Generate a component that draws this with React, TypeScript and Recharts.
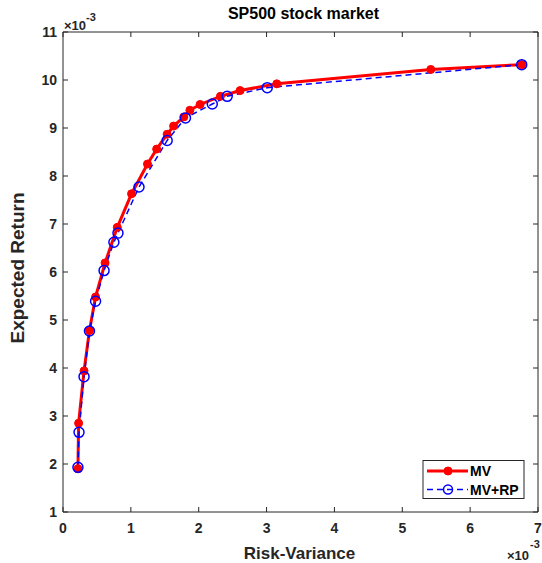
import React from 'react';
import { LineChart, Line, XAxis, YAxis, Label } from 'recharts';

const FONT = '"Liberation Sans", Arial, Helvetica, sans-serif';
const AXIS_COLOR = '#262626';

// Values in units of 1e-3
const mvRisk = [0.22, 0.23, 0.31, 0.39, 0.48, 0.62, 0.8, 1.01, 1.245, 1.38, 1.535, 1.63, 1.78, 1.87, 2.02, 2.32, 2.61, 3.15, 5.42, 6.76];
const mvReturn = [1.9, 2.85, 3.94, 4.78, 5.48, 6.19, 6.93, 7.63, 8.25, 8.56, 8.87, 9.04, 9.23, 9.37, 9.49, 9.66, 9.78, 9.92, 10.22, 10.32];
const rpRisk = [0.22, 0.236, 0.31, 0.39, 0.48, 0.605, 0.75, 0.81, 1.12, 1.535, 1.805, 2.2, 2.42, 3.01, 6.76];
const rpReturn = [1.93, 2.66, 3.82, 4.77, 5.39, 6.03, 6.62, 6.81, 7.77, 8.74, 9.21, 9.5, 9.66, 9.84, 10.32];

const xTicks = [0, 1, 2, 3, 4, 5, 6, 7];
const yTicks = [1, 2, 3, 4, 5, 6, 7, 8, 9, 10, 11];

const seriesNames = ['MV', 'MV+RP'];
const seriesColors = ['#ff0000', '#0000ff'];

const mvData = mvRisk.map((x, i) => ({ x, y: mvReturn[i] }));
const rpData = rpRisk.map((x, i) => ({ x, y: rpReturn[i] }));

const tickStyle = { fill: AXIS_COLOR, fontSize: 14, fontWeight: 'bold', fontFamily: FONT };

const BottomLabel = (props: any) => {
  const vb = props.viewBox || { x: 63, y: 512, width: 474, height: 51 };
  const right = vb.x + vb.width;
  return (
    <g fontFamily={FONT} fill={AXIS_COLOR}>
      <text x={vb.x + vb.width / 2 - 1} y={vb.y + 47} textAnchor="middle" fontSize={17} fontWeight="bold">
        Risk-Variance
      </text>
      <text x={right - 31} y={vb.y + 48} fontSize={13} fontWeight="bold">
        ×10
      </text>
      <text x={right - 8} y={vb.y + 36} fontSize={11} fontWeight="bold">
        -3
      </text>
    </g>
  );
};

const TopLabel = (props: any) => {
  const vb = props.viewBox || { x: 63, y: 31, width: 474, height: 1 };
  const top = vb.y + vb.height;
  return (
    <g fontFamily={FONT} fill={AXIS_COLOR}>
      <text x={vb.x + vb.width / 2 + 3} y={top - 13} textAnchor="middle" fontSize={16} fontWeight="bold" fill="#000">
        SP500 stock market
      </text>
      <text x={vb.x + 1} y={top - 2} fontSize={13} fontWeight="bold">
        ×10
      </text>
      <text x={vb.x + 23} y={top - 11} fontSize={11} fontWeight="bold">
        -3
      </text>
    </g>
  );
};

const LeftLabel = (props: any) => {
  const vb = props.viewBox || { x: 0, y: 32, width: 63, height: 480 };
  const cx = 24;
  const cy = vb.y + vb.height / 2 - 4;
  return (
    <text
      x={cx}
      y={cy}
      transform={`rotate(-90, ${cx}, ${cy})`}
      textAnchor="middle"
      fontFamily={FONT}
      fontSize={19}
      fontWeight="bold"
      fill={AXIS_COLOR}
    >
      Expected Return
    </text>
  );
};

const LegendBox = () => (
  <svg width={104} height={42} style={{ position: 'absolute', left: 422, top: 459 }}>
    <rect x={1} y={1.5} width={101} height={38} fill="#fff" stroke={AXIS_COLOR} strokeWidth={1} />
    <line x1={5} x2={46} y1={12} y2={12} stroke={seriesColors[0]} strokeWidth={3} />
    <circle cx={26} cy={12} r={4} fill={seriesColors[0]} stroke={seriesColors[0]} />
    <text x={48} y={17} fontFamily={FONT} fontSize={14} fontWeight="bold" fill="#000">
      {seriesNames[0]}
    </text>
    <line x1={5} x2={46} y1={30.5} y2={30.5} stroke={seriesColors[1]} strokeWidth={1.5} strokeDasharray="6 4" />
    <circle cx={26} cy={30.5} r={4.5} fill="none" stroke={seriesColors[1]} strokeWidth={1.5} />
    <text x={48} y={35.5} fontFamily={FONT} fontSize={14} fontWeight="bold" fill="#000">
      {seriesNames[1]}
    </text>
  </svg>
);

export default function App() {
  return (
    <div style={{ position: 'absolute', left: 0, top: 0, width: 542, height: 563, background: '#fff' }}>
      <LineChart width={542} height={563} margin={{ top: 31, right: 3, bottom: 0, left: 0 }}>
        <XAxis
          xAxisId="b"
          type="number"
          dataKey="x"
          orientation="bottom"
          domain={[0, 7]}
          ticks={xTicks}
          interval={0}
          allowDataOverflow
          height={51}
          tickSize={-5}
          tickMargin={16}
          stroke={AXIS_COLOR}
          tickLine={{ stroke: AXIS_COLOR }}
          tick={tickStyle}
        >
          <Label content={BottomLabel} />
        </XAxis>
        <XAxis
          xAxisId="t"
          type="number"
          dataKey="x"
          orientation="top"
          domain={[0, 7]}
          ticks={xTicks}
          interval={0}
          allowDataOverflow
          height={1}
          tickSize={-5}
          stroke={AXIS_COLOR}
          tickLine={{ stroke: AXIS_COLOR }}
          tickFormatter={() => ''}
        >
          <Label content={TopLabel} />
        </XAxis>
        <YAxis
          yAxisId="l"
          type="number"
          dataKey="y"
          orientation="left"
          domain={[1, 11]}
          ticks={yTicks}
          interval={0}
          allowDataOverflow
          width={63}
          tickSize={-5}
          tickMargin={11}
          stroke={AXIS_COLOR}
          tickLine={{ stroke: AXIS_COLOR }}
          tick={tickStyle}
        >
          <Label content={LeftLabel} />
        </YAxis>
        <YAxis
          yAxisId="r"
          type="number"
          dataKey="y"
          orientation="right"
          domain={[1, 11]}
          ticks={yTicks}
          interval={0}
          allowDataOverflow
          width={1}
          tickSize={-5}
          stroke={AXIS_COLOR}
          tickLine={{ stroke: AXIS_COLOR }}
          tickFormatter={() => ''}
        />
        <Line
          xAxisId="b"
          yAxisId="l"
          data={mvData}
          dataKey="y"
          name={seriesNames[0]}
          type="linear"
          stroke={seriesColors[0]}
          strokeWidth={3}
          dot={{ r: 4, fill: seriesColors[0], stroke: seriesColors[0], strokeWidth: 1 }}
          activeDot={false}
          isAnimationActive={false}
        />
        <Line
          xAxisId="b"
          yAxisId="l"
          data={rpData}
          dataKey="y"
          name={seriesNames[1]}
          type="linear"
          stroke={seriesColors[1]}
          strokeWidth={1.5}
          strokeDasharray="6 4"
          dot={{ r: 5, fill: 'none', stroke: seriesColors[1], strokeWidth: 1.5, strokeDasharray: 'none' }}
          activeDot={false}
          isAnimationActive={false}
        />
      </LineChart>
      <LegendBox />
    </div>
  );
}
